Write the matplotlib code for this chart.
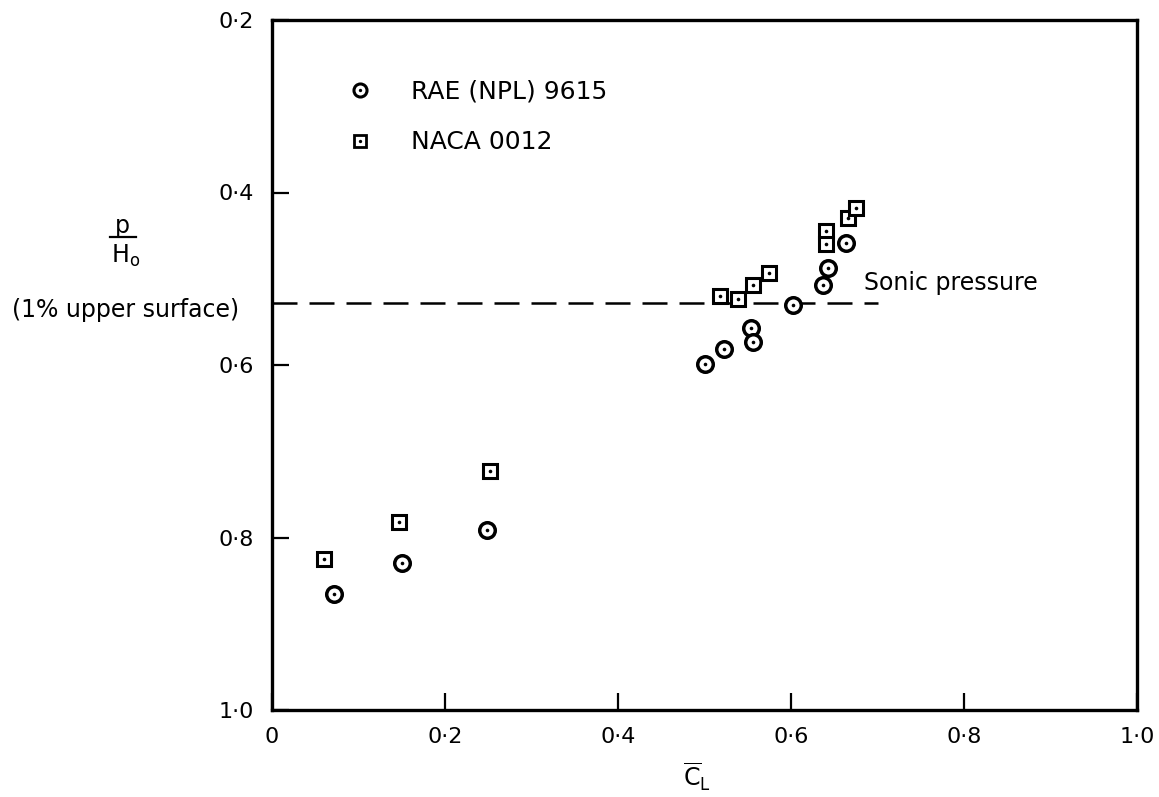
import matplotlib
matplotlib.use("Agg")
import matplotlib.pyplot as plt
from matplotlib.lines import Line2D
from matplotlib.legend_handler import HandlerTuple

# ---- data ----
rae_cl = [0.072, 0.150, 0.249, 0.501, 0.522, 0.554, 0.556, 0.602, 0.637, 0.643, 0.664]
rae_p = [0.866, 0.830, 0.791, 0.599, 0.581, 0.557, 0.573, 0.531, 0.507, 0.487, 0.459]

naca_cl = [0.060, 0.147, 0.252, 0.518, 0.539, 0.556, 0.574, 0.641, 0.641, 0.666, 0.675]
naca_p = [0.825, 0.782, 0.723, 0.520, 0.524, 0.507, 0.493, 0.445, 0.460, 0.429, 0.418]

sonic_p = 0.528
sonic_cl_range = [0.0, 0.70]

x_ticks = [0.0, 0.2, 0.4, 0.6, 0.8, 1.0]
x_ticklabels = ["0", "0·2", "0·4", "0·6", "0·8", "1·0"]
y_ticks = [0.2, 0.4, 0.6, 0.8, 1.0]
y_ticklabels = ["0·2", "0·4", "0·6", "0·8", "1·0"]

series_labels = ["RAE (NPL) 9615", "NACA 0012"]

plt.rcParams['font.family'] = ['DejaVu Sans']
plt.rcParams['mathtext.fontset'] = 'dejavusans'

W, H = 1159, 797
fig = plt.figure(figsize=(W / 100, H / 100), dpi=100)
ax = fig.add_axes([272 / W, 1 - 710 / H, 865 / W, 690 / H])

ax.set_xlim(0, 1.0)
ax.set_ylim(1.0, 0.2)

# sonic line
ax.plot(sonic_cl_range, [sonic_p, sonic_p], color='black', lw=1.8,
        dashes=(10, 4.8), zorder=1)
ax.text(0.684, 0.513, "Sonic pressure", fontsize=17, ha='left', va='baseline')

# markers
ring_kw = dict(linestyle='none', marker='o', ms=11.2, mew=2.5, mec='black', mfc='white', zorder=3)
sq_kw = dict(linestyle='none', marker='s', ms=10, mew=2.2, mec='black', mfc='white', zorder=3)
dot_kw = dict(linestyle='none', marker='o', ms=2.6, mew=0, mfc='black', zorder=4)

ax.plot(naca_cl, naca_p, **sq_kw)
ax.plot(naca_cl, naca_p, **dot_kw)
ax.plot(rae_cl, rae_p, **ring_kw)
ax.plot(rae_cl, rae_p, **dot_kw)

# legend
h_rae = (Line2D([], [], linestyle='none', marker='o', ms=9.4, mew=2.2, mec='black', mfc='white'),
         Line2D([], [], linestyle='none', marker='o', ms=2.4, mew=0, mfc='black'))
h_naca = (Line2D([], [], linestyle='none', marker='s', ms=8, mew=2.0, mec='black', mfc='white'),
          Line2D([], [], linestyle='none', marker='o', ms=2.4, mew=0, mfc='black'))
leg = ax.legend([h_rae, h_naca], series_labels,
                handler_map={tuple: HandlerTuple(ndivide=1, pad=0)},
                loc='upper left', bbox_to_anchor=(0.0873, 0.914),
                frameon=False, fontsize=18, borderpad=0, borderaxespad=0,
                handlelength=1.0, handletextpad=1.54, labelspacing=1.08)

# ticks and spines
ax.set_xticks(x_ticks)
ax.set_xticklabels(x_ticklabels)
ax.set_yticks(y_ticks)
ax.set_yticklabels(y_ticklabels)
ax.tick_params(axis='both', direction='in', length=12, width=1.6, labelsize=16)
ax.tick_params(axis='x', pad=12)
ax.tick_params(axis='y', pad=13)
for s in ax.spines.values():
    s.set_linewidth(2.4)

# axis labels
fig.text(697 / W, 1 - 777 / H, r"$\overline{\mathrm{C}}_{\mathrm{L}}$", fontsize=17,
         ha='center', va='center')
fig.text(122 / W, 1 - 226 / H, "p", fontsize=17, ha='center', va='center')
fig.add_artist(Line2D([110 / W, 136 / W], [1 - 237 / H, 1 - 237 / H], color='black', lw=1.6))
fig.text(126 / W, 1 - 256 / H, r"H$_{\mathrm{o}}$", fontsize=17, ha='center', va='center')
fig.text(126 / W, 1 - 310 / H, "(1% upper surface)", fontsize=17, ha='center', va='center')

fig.savefig("out.png", dpi=100)
